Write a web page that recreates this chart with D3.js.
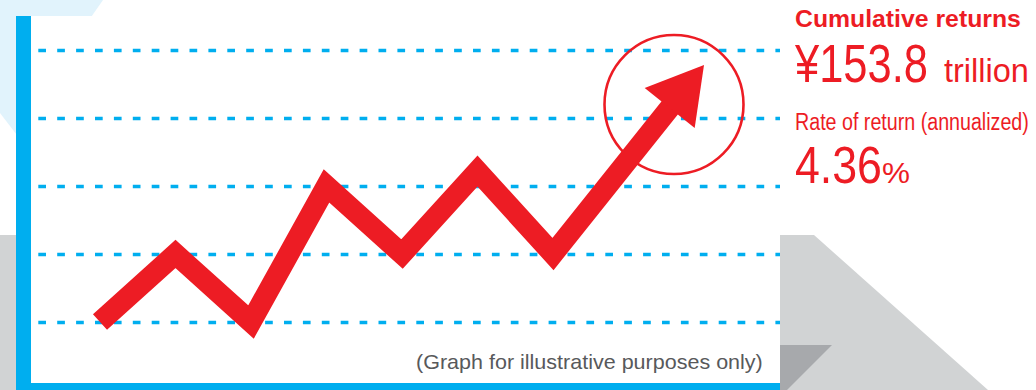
<!DOCTYPE html>
<html>
<head>
<meta charset="utf-8">
<script src="https://cdn.jsdelivr.net/npm/d3@7"></script>
<style>
  html, body { margin: 0; padding: 0; background: #ffffff; }
  svg { display: block; }
</style>
</head>
<body>
<svg id="chart" width="1036" height="390"></svg>
<script>
// Illustrative return path: step index and level (in gridline units)
const steps  = [0, 1, 2, 3, 4, 5, 6, 8];
const levels = [1, 2, 1, 3, 2, 3.22, 2, 4.78];
// Dashed reference levels
const gridLevels = [1, 2, 3, 4, 5];

// Headline figures
const cumulativeLabel = "Cumulative returns";
const cumulativeValue = "¥153.8";
const cumulativeUnit  = "trillion";
const rateLabel = "Rate of return (annualized)";
const rateValue = "4.36";
const rateUnit  = "%";
const footnote  = "(Graph for illustrative purposes only)";

const RED = "#ed1c24";
const BLUE = "#00aeef";
const FONT = "'Liberation Sans', Arial, Helvetica, sans-serif";

const svg = d3.select("#chart");
const W = 1036, H = 390;

// ---- Decorative background shapes ----
svg.append("polygon")
  .attr("points", [[0,0],[103,0],[40,90],[20,139],[0,113]].map(p => p.join(",")).join(" "))
  .attr("fill", "#e1f3fc");

svg.append("polygon")
  .attr("points", [[0,235],[814,235],[988,390],[0,390]].map(p => p.join(",")).join(" "))
  .attr("fill", "#d1d3d4");

svg.append("polygon")
  .attr("points", [[780,345],[832,345],[787,390],[780,390]].map(p => p.join(",")).join(" "))
  .attr("fill", "#a7a9ac");

// ---- Chart panel ----
const panel = { left: 31, top: 16, right: 780, bottom: 383 };
svg.append("rect")
  .attr("x", panel.left).attr("y", panel.top)
  .attr("width", panel.right - panel.left)
  .attr("height", panel.bottom - panel.top)
  .attr("fill", "#ffffff");
// left and bottom frame bars
svg.append("rect").attr("x", 16).attr("y", 16).attr("width", 15).attr("height", H - 16).attr("fill", BLUE);
svg.append("rect").attr("x", 16).attr("y", panel.bottom).attr("width", panel.right - 16).attr("height", H - panel.bottom).attr("fill", BLUE);

// ---- Scales ----
const x = d3.scaleLinear().domain([0, 8]).range([100, 704]);
const y = d3.scaleLinear().domain([1, 5]).range([322, 50]);

// ---- Dashed gridlines via axis ----
const grid = svg.append("g")
  .attr("transform", `translate(${panel.left},0)`)
  .call(d3.axisRight(y)
    .tickValues(gridLevels)
    .tickSize(panel.right - panel.left)
    .tickFormat(""));
grid.select(".domain").remove();
grid.selectAll(".tick line")
  .attr("x1", 7.3)
  .attr("stroke", BLUE)
  .attr("stroke-width", 3.4)
  .attr("stroke-dasharray", "7.7,11.2");

// ---- Highlight circle around the end ----
svg.append("circle")
  .attr("cx", 674).attr("cy", 104.5).attr("r", 69.5)
  .attr("fill", "none")
  .attr("stroke", RED)
  .attr("stroke-width", 2.6);

// ---- Line with arrow head ----
const pts = steps.map((s, i) => [x(s), y(levels[i])]);
const tip = pts[pts.length - 1];
const prev = pts[pts.length - 2];
const dx = tip[0] - prev[0], dy = tip[1] - prev[1];
const len = Math.hypot(dx, dy);
const ux = dx / len, uy = dy / len;      // direction of the last leg
const nx = -uy, ny = ux;                  // normal
const headLen = 55, headHalf = 32;
const base = [tip[0] - headLen * ux, tip[1] - headLen * uy];
const shaftEnd = [tip[0] - (headLen - 6) * ux, tip[1] - (headLen - 6) * uy];

const linePts = pts.slice(0, -1).concat([shaftEnd]);
svg.append("path")
  .attr("d", d3.line()(linePts))
  .attr("fill", "none")
  .attr("stroke", RED)
  .attr("stroke-width", 21)
  .attr("stroke-linejoin", "miter")
  .attr("stroke-miterlimit", 10)
  .attr("stroke-linecap", "butt");

svg.append("polygon")
  .attr("points", [
      tip,
      [base[0] + headHalf * nx, base[1] + headHalf * ny],
      [base[0] - headHalf * nx, base[1] - headHalf * ny]
    ].map(p => p.join(",")).join(" "))
  .attr("fill", RED);

// ---- Text block: each label is squeezed horizontally to a set width ----
function label(txt, xPos, yPos, size, width, opts = {}) {
  const g = svg.append("g");
  const t = g.append("text")
    .attr("x", 0).attr("y", 0)
    .attr("font-family", FONT)
    .attr("font-size", size)
    .attr("font-weight", opts.weight || "normal")
    .attr("fill", opts.fill || RED)
    .text(txt);
  const natural = t.node().getComputedTextLength() || width;
  g.attr("transform", `translate(${xPos},${yPos}) scale(${width / natural},1)`);
  return t;
}
label(cumulativeLabel, 795, 27, 23.5, 226, { weight: "bold" });
label(cumulativeValue, 795, 81.5, 53.5, 133);
label(cumulativeUnit, 944, 81.5, 34, 85);
label(rateLabel, 795, 130, 24.5, 234);
label(rateValue, 795, 183.3, 52, 87);
label(rateUnit, 882, 183.3, 30, 28);

label(footnote, 416, 369, 20, 347, { fill: "#58595b" });
</script>
</body>
</html>
